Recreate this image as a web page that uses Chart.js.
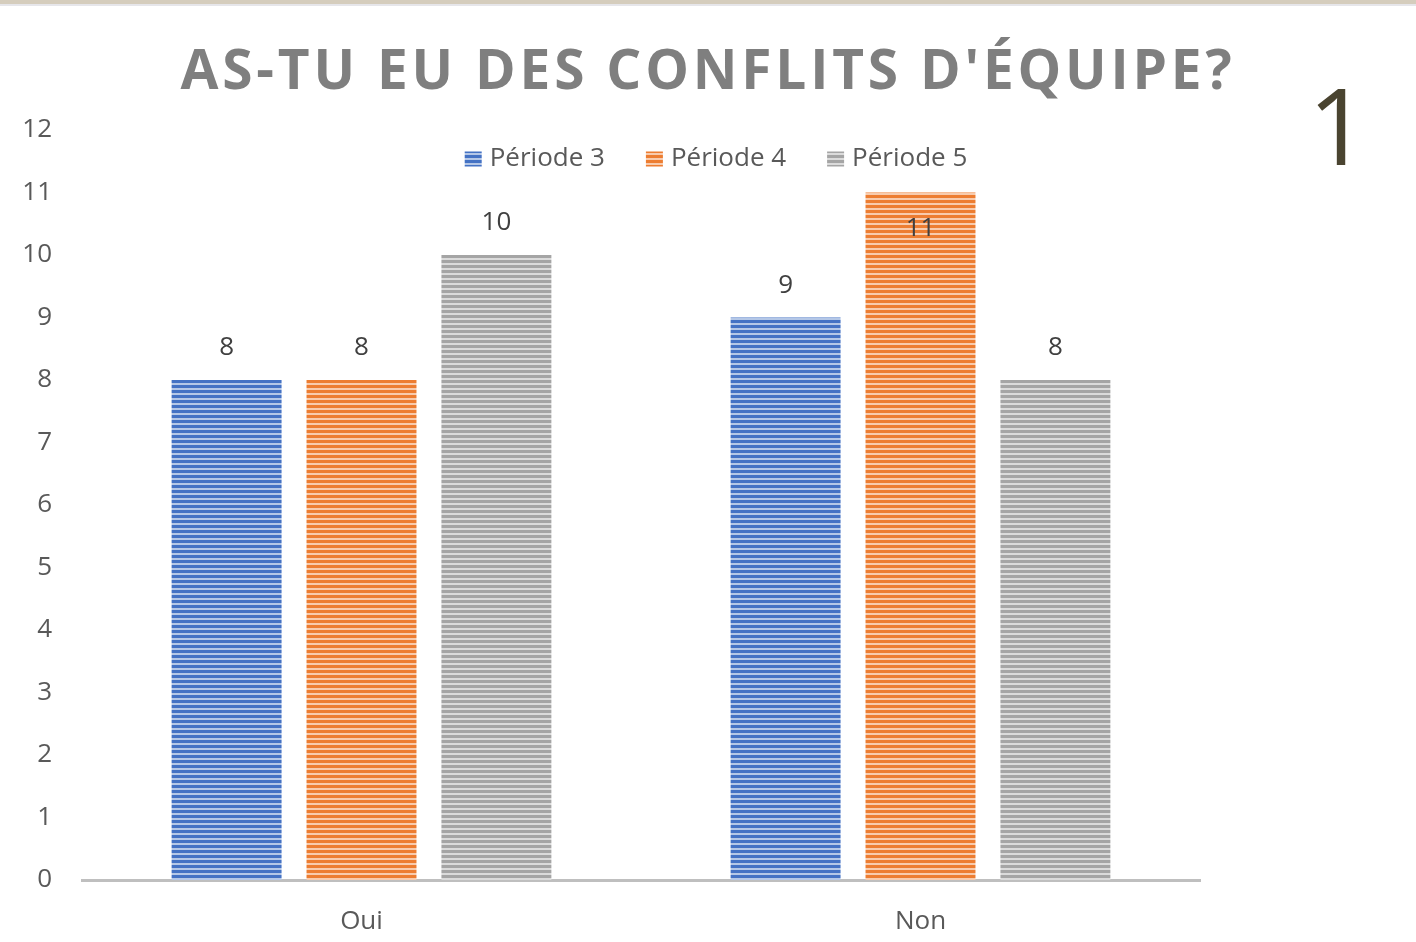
<!DOCTYPE html>
<html>
<head>
<meta charset="utf-8">
<script src="https://cdn.jsdelivr.net/npm/chart.js@4"></script>
<style>
  html, body { margin: 0; padding: 0; background: #fff; }
  body { width: 1416px; height: 942px; position: relative; overflow: hidden; font-family: "Open Sans", sans-serif; }
  #topbar { position: absolute; left: 0; top: 0; width: 1416px; height: 4px; background: #d5cdbd; border-bottom: 2px solid #e6e6ea; }
  #titre { position: absolute; left: 0; top: 30px; width: 1416px; text-align: center; font-weight: 700; font-size: 55px; letter-spacing: 3.8px; color: #7f7f7f; }
  #num { position: absolute; left: 1308px; top: 52px; font-size: 106px; color: #4a4430; }
  #chart-wrap { position: absolute; left: 0; top: 0; width: 1416px; height: 942px; }
</style>
</head>
<body>
<div id="topbar"></div>
<div id="chart-wrap"><canvas id="myChart" width="1416" height="942"></canvas></div>
<div id="titre">AS-TU EU DES CONFLITS D'ÉQUIPE?</div>
<div id="num">1</div>
<script>
const categories = ["Oui", "Non"];
const periode3 = [8, 9];
const periode4 = [8, 11];
const periode5 = [10, 8];
const yTicks = [0, 1, 2, 3, 4, 5, 6, 7, 8, 9, 10, 11, 12];

// hachures horizontales comme dans Excel
const rayures = (fonce, clair) => {
  const c = document.createElement("canvas");
  c.width = 4;
  c.height = 5;
  const g = c.getContext("2d");
  g.fillStyle = clair;
  g.fillRect(0, 0, 4, 5);
  g.fillStyle = fonce;
  g.fillRect(0, 0, 4, 3);
  return g.createPattern(c, "repeat");
};

const ctx = document.getElementById("myChart");
const police = "'Open Sans', sans-serif";

const legendeMaison = {
  id: "legendeMaison",
  afterDraw(chart) {
    const g = chart.ctx;
    g.save();
    g.font = "26px " + police;
    g.textBaseline = "middle";
    const y = 159;
    const items = chart.data.datasets.map((d) => ({ label: d.label, bg: d.backgroundColor }));
    const box = 17, gap = 8, sep = 41;
    let total = 0;
    items.forEach((it, i) => {
      it.w = g.measureText(it.label).width;
      total += box + gap + it.w + (i < items.length - 1 ? sep : 0);
    });
    let x = 716 - total / 2;
    items.forEach((it) => {
      g.fillStyle = it.bg;
      g.fillRect(x, y - box / 2 + 1, box, box - 2);
      x += box + gap;
      g.fillStyle = "#595959";
      g.fillText(it.label, x, y);
      x += it.w + sep;
    });
    g.restore();
  },
};

const etiquettes = {
  id: "etiquettes",
  afterDatasetsDraw(chart) {
    const g = chart.ctx;
    g.save();
    g.font = "26px " + police;
    g.fillStyle = "#404040";
    g.textAlign = "center";
    g.textBaseline = "middle";
    chart.data.datasets.forEach((d, i) => {
      chart.getDatasetMeta(i).data.forEach((bar, j) => {
        let y = bar.y - 32;
        if (y < 200) y = bar.y + 36;
        g.fillText(String(d.data[j]), bar.x, y);
      });
    });
    g.restore();
  },
};

new Chart(ctx, {
  type: "bar",
  data: {
    labels: categories,
    datasets: [
      { label: "Période 3", data: periode3, backgroundColor: rayures("#4472c4", "#b4c7e7") },
      { label: "Période 4", data: periode4, backgroundColor: rayures("#ed7d31", "#f8cbad") },
      { label: "Période 5", data: periode5, backgroundColor: rayures("#a5a5a5", "#dbdbdb") },
    ],
  },
  options: {
    responsive: false,
    animation: false,
    layout: { padding: { top: 130, right: 216, bottom: 0, left: 0 } },
    datasets: { bar: { categoryPercentage: 0.724, barPercentage: 0.815 } },
    plugins: {
      legend: { display: false },
      tooltip: { enabled: false },
    },
    scales: {
      x: {
        grid: { display: false, drawTicks: false },
        border: { color: "#bfbfbf", width: 3 },
        ticks: { color: "#595959", font: { size: 26, family: police }, padding: 26 },
        afterFit: (s) => { s.height = 62; },
      },
      y: {
        min: 0,
        max: 12,
        afterBuildTicks: (s) => { s.ticks = yTicks.map((v) => ({ value: v })); },
        grid: { display: false, drawTicks: false },
        border: { display: false },
        ticks: { color: "#595959", font: { size: 26, family: police }, padding: 30 },
        afterFit: (s) => { s.width = 82; },
      },
    },
  },
  plugins: [legendeMaison, etiquettes],
});
</script>
</body>
</html>
